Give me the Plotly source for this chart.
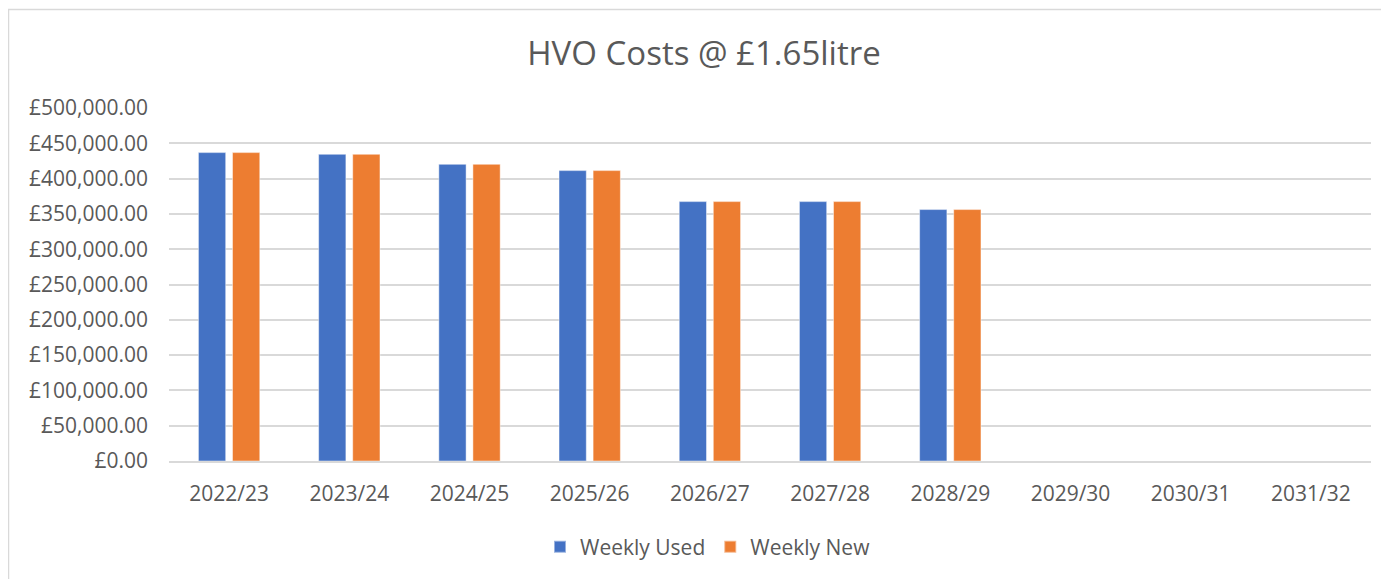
import plotly.graph_objects as go

categories = ["2022/23", "2023/24", "2024/25", "2025/26", "2026/27",
              "2027/28", "2028/29", "2029/30", "2030/31", "2031/32"]
weekly_used = [436800, 434400, 420200, 411300, 367400, 367400, 356100, None, None, None]
weekly_new = [436800, 434400, 420200, 411300, 367400, 367400, 356100, None, None, None]

FONT = "Open Sans"
TXT = "#595959"
GRID = "#d9d9d9"

W, H = 1381, 571
L, R, T, B = 161, 18, 100, 118
PW, PH = W - L - R, H - T - B

fig = go.Figure()
fig.add_trace(go.Bar(x=categories, y=weekly_used, name="Weekly Used",
                     marker=dict(color="#4472C4", line=dict(color="rgba(255,255,255,0.45)", width=1))))
fig.add_trace(go.Bar(x=categories, y=weekly_new, name="Weekly New",
                     marker=dict(color="#ED7D31", line=dict(color="rgba(255,255,255,0.45)", width=1))))

fig.update_layout(
    width=W, height=H,
    margin=dict(l=L, r=R, t=T, b=B),
    paper_bgcolor="white", plot_bgcolor="white",
    barmode="group", bargap=0.433, bargroupgap=0.2,
    font=dict(family=FONT, color=TXT, size=21),
    title=dict(text="HVO Costs @ £1.65litre", x=696 / W, xanchor="center",
               y=1 - 45 / H, yanchor="middle",
               font=dict(family=FONT, size=33, color=TXT)),
    legend=dict(orientation="h", x=(700 - L) / PW, xanchor="center",
                y=(PH - (547 - 8 - T)) / PH, yanchor="middle",
                font=dict(family=FONT, size=21, color=TXT), itemsizing="constant",
                traceorder="normal", itemwidth=30),
    showlegend=True,
    yaxis=dict(range=[0, 500000], dtick=50000, tickprefix="£", tickformat=",.2f",
               showgrid=True, gridcolor=GRID, gridwidth=1.5, zeroline=False,
               showline=False, ticks="", ticklabelstandoff=20,
               tickfont=dict(family=FONT, size=21, color=TXT), fixedrange=True),
    xaxis=dict(showline=True, linecolor=GRID, linewidth=1.5, ticks="",
               ticklabelstandoff=13, tickfont=dict(family=FONT, size=21, color=TXT),
               fixedrange=True),
    shapes=[dict(type="rect", xref="paper", yref="paper",
                 x0=(0.5 - L) / PW, x1=1.2, y0=-1.0, y1=(PH + T - 1.5) / PH,
                 line=dict(color=GRID, width=1.5), layer="below")],
)

fig.write_html("out.html")
